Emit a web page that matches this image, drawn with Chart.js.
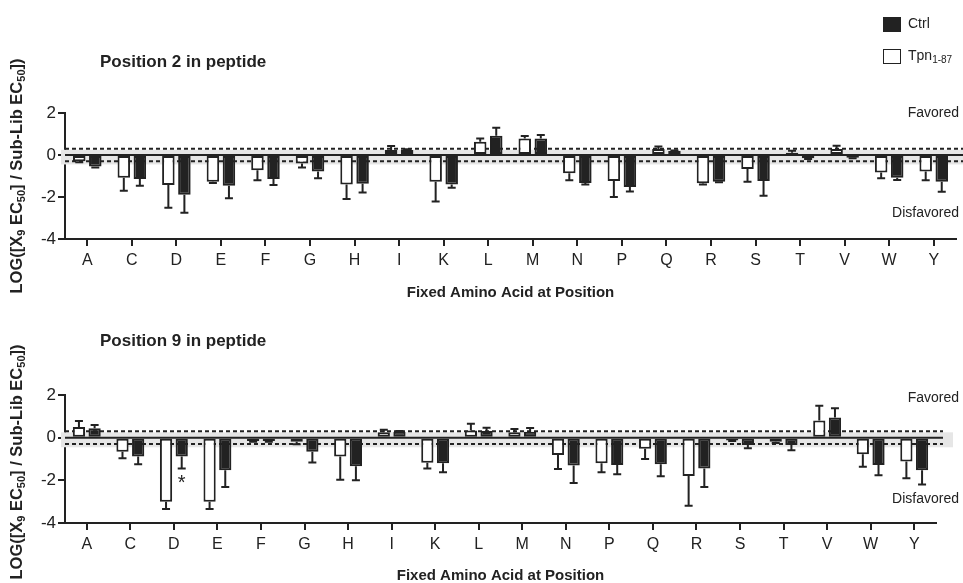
<!DOCTYPE html>
<html>
<head>
<meta charset="utf-8">
<script src="https://cdn.jsdelivr.net/npm/chart.js@4.4.1/dist/chart.umd.min.js"></script>
<style>
body{margin:0;width:963px;height:583px;overflow:hidden;background:#fff;font-family:"Liberation Sans",Arial,sans-serif;color:#222;position:relative}
canvas{position:absolute;left:0}
#c1{top:0}
#c2{top:300px}
.t{position:absolute;white-space:nowrap}
.ttl{font-size:17px;font-weight:bold;left:100px;transform:translateY(-50%)}
.fav{font-size:14px;right:4px;transform:translateY(-50%)}
.ytl{font-size:16.5px;font-weight:bold;left:17px;transform:translate(-50%,-50%) rotate(-90deg)}
.ytl sub{font-size:11px;vertical-align:-3px}
.sw{position:absolute;left:883px;width:16px;height:13px;border:1.5px solid #222}
.lg{font-size:14px;left:908px;transform:translateY(-50%)}
.lg sub{font-size:10px;vertical-align:-3px}
</style>
</head>
<body>
<canvas id="c1" width="963" height="300"></canvas>
<canvas id="c2" width="963" height="283"></canvas>

<div class="sw" style="top:17px;background:#222"></div>
<div class="t lg" style="top:23px">Ctrl</div>
<div class="sw" style="top:49px;background:#fff"></div>
<div class="t lg" style="top:56px">Tpn<sub>1-87</sub></div>

<div class="t ttl" style="top:62px">Position 2 in peptide</div>
<div class="t ttl" style="top:341px">Position 9 in peptide</div>

<div class="t fav" style="top:112px">Favored</div>
<div class="t fav" style="top:212px">Disfavored</div>
<div class="t fav" style="top:397px">Favored</div>
<div class="t fav" style="top:498px">Disfavored</div>

<div class="t ytl" style="top:176px">LOG([X<sub>9</sub> EC<sub>50</sub>] / Sub-Lib EC<sub>50</sub>])</div>
<div class="t ytl" style="top:462px">LOG([X<sub>9</sub> EC<sub>50</sub>] / Sub-Lib EC<sub>50</sub>])</div>

<script>
const cats=['A','C','D','E','F','G','H','I','K','L','M','N','P','Q','R','S','T','V','W','Y'];

// position 2
const p2Tpn=[-0.3,-1.08,-1.43,-1.27,-0.73,-0.4,-1.4,0.24,-1.27,0.63,0.78,-0.87,-1.24,0.29,-1.35,-0.67,0.11,0.29,-0.83,-0.79];
const p2TpnErr=[0.05,0.62,1.08,0.06,0.47,0.2,0.7,0.19,0.95,0.16,0.12,0.33,0.76,0.12,0.05,0.6,0.09,0.15,0.28,0.41];
const p2Ctrl=[-0.55,-1.14,-1.89,-1.46,-1.14,-0.79,-1.37,0.24,-1.4,0.92,0.79,-1.33,-1.52,0.19,-1.27,-1.24,-0.16,-0.13,-1.08,-1.27];
const p2CtrlErr=[0.05,0.33,0.86,0.6,0.29,0.32,0.41,0.03,0.16,0.38,0.16,0.07,0.22,0.03,0.03,0.7,0.03,0.03,0.11,0.48];

// position 9
const p9Tpn=[0.5,-0.66,-3.0,-3.0,-0.16,-0.19,-0.88,0.25,-1.17,0.34,0.25,-0.81,-1.2,-0.52,-1.8,-0.13,-0.19,0.81,-0.78,-1.12];
const p9TpnErr=[0.28,0.31,0.34,0.34,0.03,0.12,1.09,0.12,0.28,0.31,0.16,0.66,0.42,0.48,1.39,0.03,0.06,0.69,0.58,0.78];
const p9Ctrl=[0.44,-0.88,-0.88,-1.53,-0.16,-0.66,-1.34,0.28,-1.2,0.31,0.28,-1.31,-1.28,-1.25,-1.45,-0.34,-0.34,0.94,-1.28,-1.53];
const p9CtrlErr=[0.15,0.37,0.56,0.78,0.03,0.5,0.66,0.03,0.42,0.16,0.17,0.81,0.44,0.56,0.86,0.16,0.25,0.44,0.48,0.66];

const yTicks=[-4,-2,0,2];
const dashVals=[0.3,-0.3];
const band=[0.25,-0.45];

const ink='#222';

// band, dashed lines, zero line, error bars, asterisk
const refPlugin={
  id:'refLines',
  beforeDatasetsDraw(chart,args,opt){
    const {ctx,chartArea:a,scales:{y}}=chart;
    ctx.save();
    ctx.fillStyle='#e6e6e6';
    const b1=y.getPixelForValue(band[0]), b2=y.getPixelForValue(band[1]);
    ctx.fillRect(a.left-4,b1,opt.bandEnd-a.left+4,b2-b1);
    ctx.strokeStyle=ink; ctx.lineWidth=2; ctx.setLineDash([4,3]);
    dashVals.forEach(v=>{
      const py=y.getPixelForValue(v);
      ctx.beginPath(); ctx.moveTo(a.left,py); ctx.lineTo(opt.lineEnd,py); ctx.stroke();
    });
    ctx.restore();
  },
  afterDatasetsDraw(chart,args,opt){
    const {ctx,chartArea:a,scales:{y}}=chart;
    ctx.save();
    ctx.strokeStyle=ink; ctx.lineWidth=2;
    const z=y.getPixelForValue(0);
    ctx.beginPath(); ctx.moveTo(a.left,z); ctx.lineTo(opt.lineEnd,z); ctx.stroke();
    chart.data.datasets.forEach((ds,i)=>{
      const meta=chart.getDatasetMeta(i);
      meta.data.forEach((el,j)=>{
        const v=ds.data[j], e=ds.errs[j];
        const end=y.getPixelForValue(v+(v>=0?e:-e));
        ctx.beginPath();
        ctx.moveTo(el.x,el.y); ctx.lineTo(el.x,end);
        ctx.moveTo(el.x-4,end); ctx.lineTo(el.x+4,end);
        ctx.stroke();
      });
    });
    if(opt.star){
      const s=opt.star, ds=chart.data.datasets[s.ds], el=chart.getDatasetMeta(s.ds).data[s.idx];
      const v=ds.data[s.idx], e=ds.errs[s.idx];
      const end=y.getPixelForValue(v-e);
      ctx.fillStyle=ink; ctx.font='20px "Liberation Sans", Arial'; ctx.textAlign='center'; ctx.textBaseline='middle';
      ctx.fillText('*',el.x,end+15);
    }
    ctx.restore();
  }
};

function makeChart(id,tpn,tpnErr,ctrl,ctrlErr,pad,xh,extra){
  return new Chart(document.getElementById(id),{
    type:'bar',
    data:{labels:cats,datasets:[
      {label:'Tpn1-87',data:tpn,errs:tpnErr,backgroundColor:'#fff',borderColor:ink,borderWidth:2,borderSkipped:false},
      {label:'Ctrl',data:ctrl,errs:ctrlErr,backgroundColor:ink,borderColor:ink,borderWidth:2,borderSkipped:false}
    ]},
    options:{
      responsive:false,animation:false,
      datasets:{bar:{categoryPercentage:0.72,barPercentage:0.78}},
      layout:{padding:pad},
      font:{family:'"Liberation Sans", Arial, sans-serif'},
      plugins:{legend:{display:false},tooltip:{enabled:false},refLines:extra},
      scales:{
        x:{
          grid:{display:true,drawOnChartArea:false,offset:false,color:ink,lineWidth:2,tickLength:7},
          border:{display:true,color:ink,width:2},
          ticks:{color:ink,font:{size:16},padding:5,maxRotation:0},
          title:{display:true,text:'Fixed Amino Acid at Position',color:ink,font:{size:15,weight:'bold',lineHeight:1},padding:{top:4,bottom:0}},
          afterFit:s=>{s.height=xh;}
        },
        y:{
          min:-4,max:2,
          afterBuildTicks:s=>{s.ticks=yTicks.map(v=>({value:v}));},
          grid:{display:true,drawOnChartArea:false,color:ink,lineWidth:2,tickLength:7},
          border:{display:true,color:ink,width:2},
          ticks:{color:ink,font:{size:17},padding:2},
          afterFit:s=>{s.width=65;}
        }
      }
    },
    plugins:[refPlugin]
  });
}

makeChart('c1',p2Tpn,p2TpnErr,p2Ctrl,p2CtrlErr,{top:113,right:7,left:0,bottom:0},61,{bandEnd:963,lineEnd:963});
makeChart('c2',p9Tpn,p9TpnErr,p9Ctrl,p9CtrlErr,{top:95,right:27,left:0,bottom:0},60,{bandEnd:953,lineEnd:943,star:{ds:1,idx:2}});
</script>
</body>
</html>
